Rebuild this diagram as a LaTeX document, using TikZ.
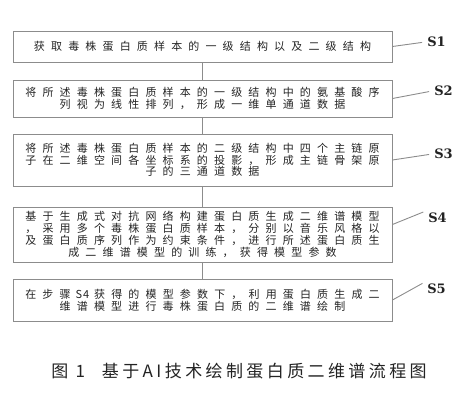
\documentclass[tikz,border=0pt]{standalone}
\usepackage{fontspec}
\setmainfont{Liberation Serif}
\newfontfamily\cjkfont[LetterSpace=56]{Noto Sans CJK SC}
\newfontfamily\capfont[LetterSpace=20]{Noto Sans CJK SC}
\newfontfamily\labelfont{DejaVu Serif}
\definecolor{framegray}{RGB}{140,140,140}
\definecolor{inkgray}{RGB}{35,35,35}

\begin{document}
\begin{tikzpicture}[
    x=1bp, y=1bp,
    stepbox/.style={
        draw=framegray,
        line width=0.9bp,
        minimum width=379bp,
        minimum height=#1,
        inner sep=0pt,
        align=center,
        anchor=center,
        text=inkgray,
        font=\cjkfont\fontsize{11bp}{11.8bp}\selectfont
    },
    steplabel/.style={font=\labelfont\bfseries\fontsize{13bp}{15bp}\selectfont, text=inkgray, inner sep=2bp},
    link/.style={draw=framegray, line width=0.9bp},
    leader/.style={link, shorten >=3bp}
]
\useasboundingbox (0,0) rectangle (468,402);

% Step boxes, top to bottom
\node[stepbox=31bp] (s1) at (202.5,355.5) {获取毒株蛋白质样本的一级结构以及二级结构};
\node[stepbox=37bp] (s2) at (202.5,303.5) {将所述毒株蛋白质样本的一级结构中的氨基酸序\\列视为线性排列，形成一维单通道数据};
\node[stepbox=52bp] (s3) at (202.5,242) {将所述毒株蛋白质样本的二级结构中四个主链原\\子在二维空间各坐标系的投影，形成主链骨架原\\子的三通道数据};
\node[stepbox=55bp] (s4) at (202.5,167.5) {基于生成式对抗网络构建蛋白质生成二维谱模型\\，采用多个毒株蛋白质样本，分别以音乐风格以\\及蛋白质序列作为约束条件，进行所述蛋白质生\\成二维谱模型的训练，获得模型参数};
\node[stepbox=42bp] (s5) at (202.5,102) {在步骤\kern5bp{\addfontfeature{LetterSpace=8}S4}\kern5bp 获得的模型参数下，利用蛋白质生成二\\维谱模型进行毒株蛋白质的二维谱绘制};

% Step labels
\node[steplabel] (l1) at (436.5,360) {S1};
\node[steplabel] (l2) at (443.5,311) {S2};
\node[steplabel] (l3) at (443.5,248) {S3};
\node[steplabel] (l4) at (437.5,184) {S4};
\node[steplabel] (l5) at (436.5,113) {S5};

% Caption
\node[font=\capfont\fontsize{17bp}{19bp}\selectfont, text=inkgray] (caption) at (239,31) {图 1\quad 基于AI技术绘制蛋白质二维谱流程图};

% Vertical links between boxes
\foreach \a/\b in {s1/s2,s2/s3,s3/s4,s4/s5}
    \draw[link] (\a.south) -- (\b.north);

% Leader lines to the labels
\draw[leader] (s1.east) -- (l1.west);
\draw[leader] (s2.east) -- (l2.west);
\draw[leader] (s3.east) -- (l3.west);
\draw[leader] ([yshift=10bp]s4.east) -- (l4.north west);
\draw[leader] (s5.east) -- (l5.north west);

\end{tikzpicture}
\end{document}
